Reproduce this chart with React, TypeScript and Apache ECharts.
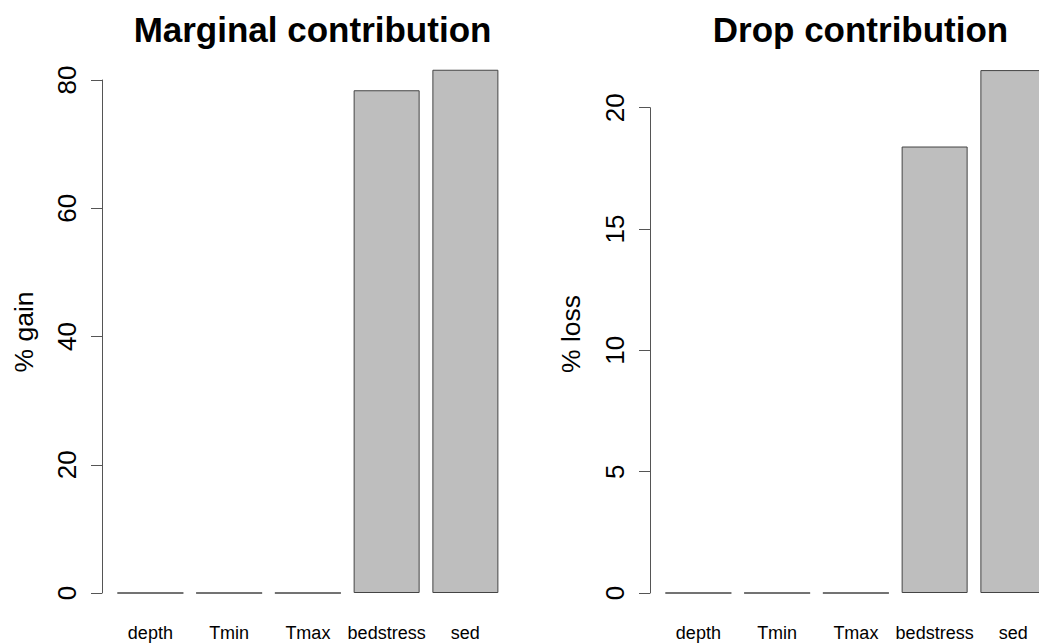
import React, { useEffect, useRef } from "react";
import * as echarts from "echarts";

const categories = ["depth", "Tmin", "Tmax", "bedstress", "sed"];
const marginalGain = [0, 0, 0, 78.4, 81.6];
const dropLoss = [0, 0, 0, 18.4, 21.55];
const panelTitles = ["Marginal contribution", "Drop contribution"];
const yNames = ["% gain", "% loss"];
const marginalAxis = { min: 0, max: 80, interval: 20 };
const dropAxis = { min: 0, max: 20, interval: 5 };

const FONT = "Liberation Sans, Arial, sans-serif";

export default function App() {
  const ref = useRef<HTMLDivElement>(null);
  useEffect(() => {
    document.body.style.margin = "0";
    const chart = echarts.init(ref.current!, null, { renderer: "svg" });
    const yAxisBase = (ax: any) => ({
      type: "value",
      min: ax.min,
      max: ax.max,
      interval: ax.interval,
      offset: 9,
      axisLine: { show: true, lineStyle: { color: "#555", width: 1 } },
      axisTick: { show: true, length: 11, lineStyle: { color: "#555", width: 1 } },
      splitLine: { show: false },
      axisLabel: {
        rotate: 90,
        margin: 22,
        fontSize: 26,
        color: "#000",
        fontFamily: FONT,
      },
    });
    const xAxisBase = (gi: number) => ({
      type: "category",
      gridIndex: gi,
      data: categories,
      axisLine: { show: false },
      axisTick: { show: false },
      axisLabel: { margin: 31, fontSize: 18, color: "#000", fontFamily: FONT, interval: 0 },
    });
    const barBase = {
      type: "bar",
      barWidth: 66,
      clip: false,
      itemStyle: { color: "#bebebe", borderColor: "#444", borderWidth: 1 },
      silent: true,
    };
    const titleStyle = { fontSize: 35, fontWeight: "bold", color: "#000", fontFamily: FONT };
    chart.setOption({
      animation: false,
      backgroundColor: "#fff",
      title: [
        { text: panelTitles[0], left: 307.5, top: 7, textAlign: "center", textStyle: titleStyle },
        { text: panelTitles[1], left: 855.5, top: 7, textAlign: "center", textStyle: titleStyle },
      ],
      grid: [
        { left: 111, top: 80, width: 393.75, height: 513, outerBoundsMode: "none", containLabel: false },
        { left: 659, top: 107.7, width: 393.75, height: 485.3, outerBoundsMode: "none", containLabel: false },
      ],
      xAxis: [xAxisBase(0), xAxisBase(1)],
      yAxis: [
        { ...yAxisBase(marginalAxis), gridIndex: 0 },
        { ...yAxisBase(dropAxis), gridIndex: 1 },
      ],
      series: [
        { ...barBase, xAxisIndex: 0, yAxisIndex: 0, data: marginalGain },
        { ...barBase, xAxisIndex: 1, yAxisIndex: 1, data: dropLoss },
      ],
      graphic: [
        {
          type: "text",
          x: 24,
          y: 332,
          rotation: Math.PI / 2,
          style: {
            text: yNames[0],
            fontSize: 26.5,
            fontFamily: FONT,
            fill: "#000",
            align: "center",
            verticalAlign: "middle",
          },
        },
        {
          type: "text",
          x: 571,
          y: 334,
          rotation: Math.PI / 2,
          style: {
            text: yNames[1],
            fontSize: 26.5,
            fontFamily: FONT,
            fill: "#000",
            align: "center",
            verticalAlign: "middle",
          },
        },
      ],
    });
    return () => chart.dispose();
  }, []);
  return (
    <div
      ref={ref}
      style={{ position: "fixed", left: 0, top: 0, width: 1039, height: 644 }}
    />
  );
}
